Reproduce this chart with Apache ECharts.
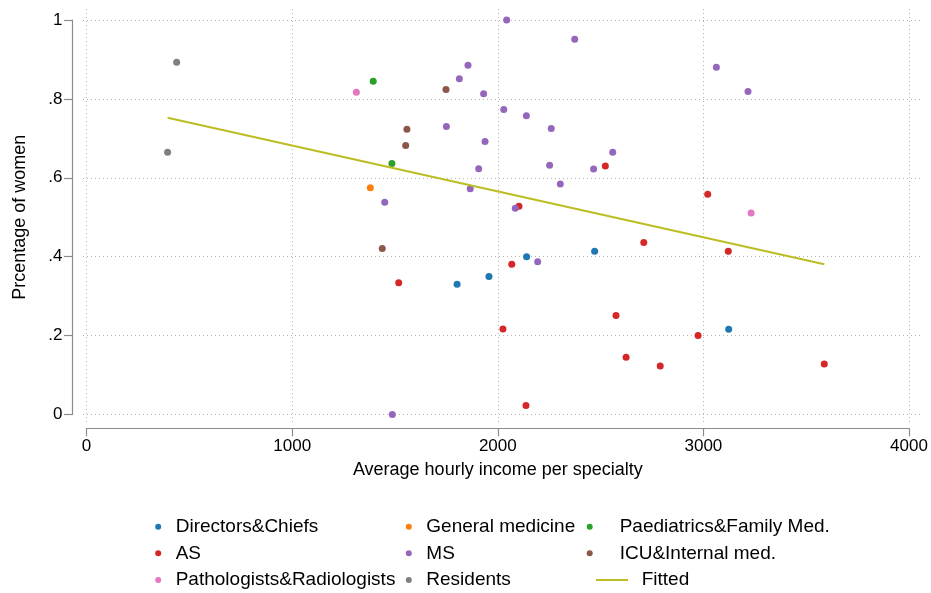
<!DOCTYPE html>
<html>
<head>
<meta charset="utf-8">
<script src="https://cdn.jsdelivr.net/npm/echarts@6/dist/echarts.min.js"></script>
<style>html,body{margin:0;padding:0;background:#fff}#c{width:931px;height:593px}</style>
</head>
<body>
<div id="c"></div>
<script>
// ---- data ----
const directorsChiefs = [[1802,0.330],[1957,0.350],[2140,0.400],[2471,0.414],[3123,0.216]];
const generalMedicine = [[1380,0.575]];
const paediatricsFamily = [[1394,0.845],[1485,0.636]];
const asGroup = [[2523,0.630],[2103,0.528],[3021,0.558],[1518,0.334],[2068,0.381],[2575,0.251],[2025,0.217],[2624,0.145],[2137,0.023],[2710,0.436],[3121,0.414],[2790,0.123],[2974,0.200],[3588,0.128]];
const msGroup = [[2043,1.000],[2374,0.951],[1855,0.885],[1813,0.851],[1931,0.813],[2029,0.773],[2139,0.757],[2260,0.725],[1750,0.730],[1938,0.692],[2559,0.665],[2252,0.632],[1907,0.623],[2466,0.622],[2304,0.584],[1866,0.572],[1450,0.538],[2085,0.523],[3063,0.880],[3217,0.819],[2194,0.387],[1487,0.000]];
const icuInternal = [[1748,0.824],[1558,0.723],[1552,0.682],[1438,0.421]];
const pathoRadio = [[1312,0.817],[3232,0.511]];
const residents = [[438,0.893],[394,0.665]];
const fitted = [[394,0.752],[3588,0.381]];

const xTicks = [0,1000,2000,3000,4000];
const xTickLabels = ['0','1000','2000','3000','4000'];
const yTicks = [0,0.2,0.4,0.6,0.8,1];
const yTickLabels = ['0','.2','.4','.6','.8','1'];

const groups = [
  {name:'Directors&Chiefs', data:directorsChiefs, color:'#1f77b4'},
  {name:'General medicine', data:generalMedicine, color:'#ff7f0e'},
  {name:'Paediatrics&Family Med.', data:paediatricsFamily, color:'#2ca02c'},
  {name:'AS', data:asGroup, color:'#d62728'},
  {name:'MS', data:msGroup, color:'#9467bd'},
  {name:'ICU&Internal med.', data:icuInternal, color:'#8c564b'},
  {name:'Pathologists&Radiologists', data:pathoRadio, color:'#e377c2'},
  {name:'Residents', data:residents, color:'#7f7f7f'}
];

const FONT = '"Liberation Sans", Arial, Helvetica, sans-serif';
const chart = echarts.init(document.getElementById('c'), null, {renderer:'canvas'});

const series = groups.map(g => ({
  name: g.name, type: 'scatter', xAxisIndex: 0, yAxisIndex: 0,
  data: g.data, symbol: 'circle', symbolSize: 7,
  itemStyle: {color: g.color, opacity: 1}, z: 3
}));
series.push({
  name: 'Fitted', type: 'line', xAxisIndex: 0, yAxisIndex: 0,
  data: fitted, showSymbol: false, symbol: 'none',
  lineStyle: {color: '#bcbd22', width: 2}, itemStyle: {color: '#bcbd22'}, z: 4
});

function tickLabel(ticks, labels) {
  return v => { const i = ticks.findIndex(t => Math.abs(t - v) < 1e-9); return i >= 0 ? labels[i] : ''; };
}

// legend layout (3 columns x 3 rows)
const rowTop = [516.7, 543.3, 570];
const legendTxt = {fontFamily: FONT, fontSize: 19, color: '#000', lineHeight: 20};
function leg(name, left, top, w, extra) {
  return Object.assign({
    data: [name], left: left, top: top, padding: 0, itemWidth: w, itemHeight: 6,
    icon: 'circle', textStyle: Object.assign({}, legendTxt), selectedMode: false
  }, extra || {});
}
const legends = [
  leg('Directors&Chiefs', 155.2, rowTop[0], 25),
  leg('General medicine', 405.8, rowTop[0], 25),
  leg('Paediatrics&Family Med.', 586.7, rowTop[0], 50),
  leg('AS', 155.2, rowTop[1], 25),
  leg('MS', 405.8, rowTop[1], 25),
  leg('ICU&Internal med.', 586.7, rowTop[1], 50),
  leg('Pathologists&Radiologists', 155.2, rowTop[2], 25),
  leg('Residents', 405.8, rowTop[2], 25),
  leg('Fitted', 596, rowTop[2], 32, {icon: 'rect', itemHeight: 2,
      textStyle: Object.assign({}, legendTxt, {padding: [0,0,0,8.7]})})
];

const gridLineStyle = {color: '#b4b4b4', width: 1, type: [1, 3]};

const option = {
  animation: false,
  backgroundColor: '#fff',
  grid: [
    {left: 86.6, right: 22, top: 20, bottom: 178.5, containLabel: false},
    {left: 83, right: 11, top: 9, bottom: 168, containLabel: false}
  ],
  xAxis: [
    {
      gridIndex: 0, type: 'value', min: 0, max: 4000, interval: 1000, offset: 13.8,
      axisLine: {show: true, onZero: false, lineStyle: {color: '#8c8c8c', width: 1.2}},
      axisTick: {show: true, length: 8, lineStyle: {color: '#8c8c8c', width: 1.2}},
      axisLabel: {show: true, margin: 10, fontFamily: FONT, fontSize: 17, color: '#000',
        formatter: tickLabel(xTicks, xTickLabels)},
      splitLine: {show: false},
      name: 'Average hourly income per specialty', nameLocation: 'middle', nameGap: 33,
      nameTextStyle: {fontFamily: FONT, fontSize: 18, color: '#000'}
    },
    {
      gridIndex: 1, type: 'value', min: -17.5, max: 4053.5,
      axisLine: {show: false}, axisLabel: {show: false},
      axisTick: {show: false, customValues: xTicks},
      splitLine: {show: true, lineStyle: gridLineStyle}
    }
  ],
  yAxis: [
    {
      gridIndex: 0, type: 'value', min: 0, max: 1, interval: 0.2, offset: 14.6,
      axisLine: {show: true, onZero: false, lineStyle: {color: '#8c8c8c', width: 1.2}},
      axisTick: {show: true, length: 8, lineStyle: {color: '#8c8c8c', width: 1.2}},
      axisLabel: {show: true, margin: 9.5, fontFamily: FONT, fontSize: 17, color: '#000',
        formatter: tickLabel(yTicks, yTickLabels)},
      splitLine: {show: false},
      name: 'Prcentage of women', nameLocation: 'middle', nameGap: 43,
      nameTextStyle: {fontFamily: FONT, fontSize: 18, color: '#000'}
    },
    {
      gridIndex: 1, type: 'value', min: -0.0266, max: 1.0279,
      axisLine: {show: false}, axisLabel: {show: false},
      axisTick: {show: false, customValues: yTicks},
      splitLine: {show: true, lineStyle: gridLineStyle}
    }
  ],
  legend: legends,
  series: series
};
chart.setOption(option);
</script>
</body>
</html>
